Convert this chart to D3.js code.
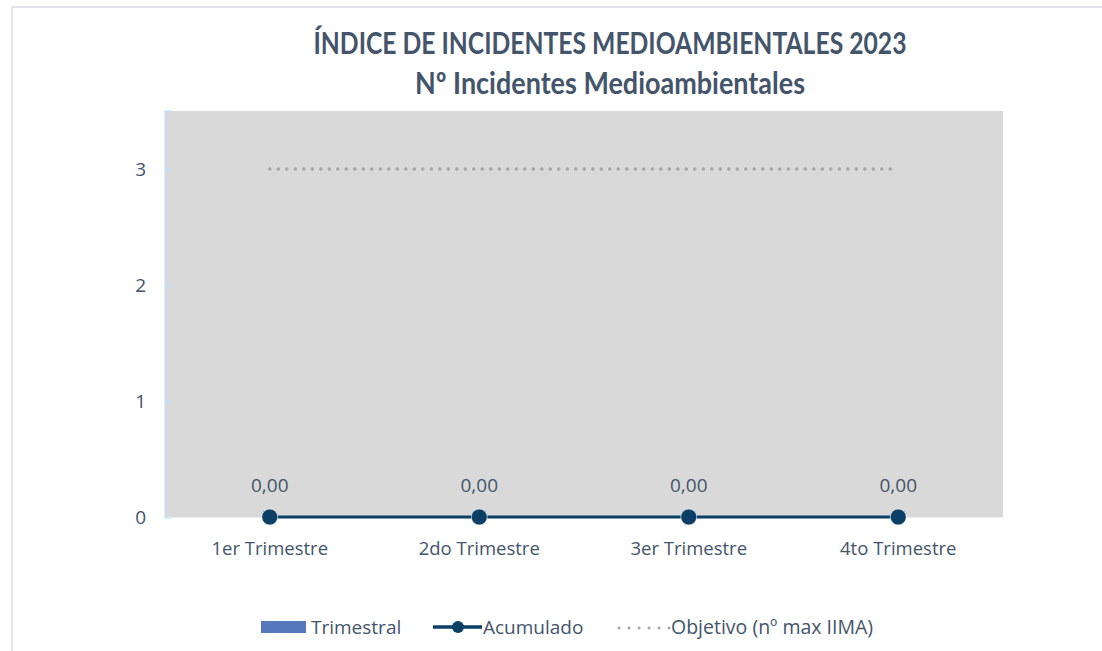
<!DOCTYPE html>
<html>
<head>
<meta charset="utf-8">
<script src="https://cdn.jsdelivr.net/npm/d3@7"></script>
<style>
  body { margin: 0; background: #fff; }
  text { font-family: "Open Sans", Lato, sans-serif; fill: #44546a; }
</style>
</head>
<body>
<div id="chart"></div>
<script>
var categories = ["1er Trimestre", "2do Trimestre", "3er Trimestre", "4to Trimestre"];
var trimestral = [0, 0, 0, 0];
var acumulado = [0, 0, 0, 0];
var objetivo = [3, 3, 3, 3];
var yTicks = [0, 1, 2, 3];
var titleLines = ["ÍNDICE DE INCIDENTES MEDIOAMBIENTALES 2023", "Nº Incidentes Medioambientales"];

var W = 1102, H = 651;
var margin = { top: 111, right: 99, bottom: 134, left: 165 },
  width = W - margin.left - margin.right,
  height = H - margin.top - margin.bottom;

var root = d3.select("#chart").append("svg").attr("width", W).attr("height", H);

// outer chart border
root.append("rect")
  .attr("x", 12).attr("y", 7)
  .attr("width", W + 20).attr("height", H + 20)
  .style("fill", "none").style("stroke", "#e1e4eb").style("stroke-width", 2);

// title
var titleWidths = [593, 390];
root.selectAll(".title")
  .data(titleLines)
  .enter()
  .append("text")
  .attr("class", "title")
  .attr("x", 610)
  .attr("y", function (d, i) { return 54 + i * 40; })
  .attr("text-anchor", "middle")
  .attr("textLength", function (d, i) { return titleWidths[i]; })
  .attr("lengthAdjust", "spacingAndGlyphs")
  .style("font-family", "Lato, sans-serif")
  .style("font-size", "30px")
  .style("font-weight", "bold")
  .text(function (d) { return d; });

var svg = root.append("g")
  .attr("transform", "translate(" + margin.left + "," + margin.top + ")");

var x = d3.scaleBand().domain(categories).range([0, width]);
var y = d3.scaleLinear().domain([0, 3.5]).range([height, 0]);
var cx = function (i) { return x(categories[i]) + x.bandwidth() / 2; };

svg.append("rect")
  .attr("width", width).attr("height", height)
  .style("fill", "#d9d9d9");

// y axis
var yAxis = d3.axisLeft(y).tickValues(yTicks).tickSize(-7).tickPadding(19)
  .tickFormat(d3.format("d"));
var gy = svg.append("g").attr("class", "y axis").call(yAxis);
gy.select(".domain").style("stroke", "#c9dcf0").style("stroke-width", 2);
gy.selectAll(".tick line").style("stroke", "#c9dcf0").style("stroke-width", 2);
gy.selectAll(".tick text").style("font-size", "19px").style("fill", "#44546a")
  .style("font-family", "'Open Sans', sans-serif");

// x axis labels
var xAxis = d3.axisBottom(x).tickSize(0).tickPadding(25);
var gx = svg.append("g").attr("class", "x axis")
  .attr("transform", "translate(0," + height + ")").call(xAxis);
gx.select(".domain").style("stroke", "#e8edf4").style("stroke-width", 1);
gx.selectAll(".tick text").style("font-size", "18.5px").style("fill", "#44546a")
  .style("font-family", "'Open Sans', sans-serif");

// Trimestral bars (zero values)
svg.selectAll(".bar")
  .data(trimestral)
  .enter()
  .append("rect")
  .attr("class", "bar")
  .attr("x", function (d, i) { return cx(i) - x.bandwidth() * 0.3; })
  .attr("width", x.bandwidth() * 0.6)
  .attr("y", function (d) { return y(d); })
  .attr("height", function (d) { return height - y(d); })
  .style("fill", "#5577bd");

// Objetivo dotted line
var line = d3.line()
  .x(function (d, i) { return cx(i); })
  .y(function (d) { return y(d); });

svg.append("path")
  .datum(objetivo)
  .attr("d", line)
  .style("fill", "none")
  .style("stroke", "#a6a6a6")
  .style("stroke-width", 3.5)
  .style("stroke-linecap", "round")
  .style("stroke-dasharray", "0.1 8.4");

// Acumulado line
svg.append("path")
  .datum(acumulado)
  .attr("d", line)
  .style("fill", "none")
  .style("stroke", "#0b3f66")
  .style("stroke-width", 3);

svg.selectAll(".dot")
  .data(acumulado)
  .enter()
  .append("circle")
  .attr("class", "dot")
  .attr("cx", function (d, i) { return cx(i); })
  .attr("cy", function (d) { return y(d); })
  .attr("r", 8)
  .style("fill", "#0b3f66")
  .style("stroke", "#ffffff")
  .style("stroke-opacity", 0.6)
  .style("stroke-width", 1);

svg.selectAll(".label")
  .data(acumulado)
  .enter()
  .append("text")
  .attr("class", "label")
  .attr("x", function (d, i) { return cx(i); })
  .attr("y", function (d) { return y(d) - 25; })
  .attr("text-anchor", "middle")
  .style("font-size", "19px")
  .text(function (d) { return d3.format(".2f")(d).replace(".", ","); });

// legend
var legend = root.append("g").attr("transform", "translate(0,627)");
legend.append("rect").attr("x", 261).attr("y", -6).attr("width", 45).attr("height", 12)
  .style("fill", "#5577bd");
legend.append("text").attr("x", 311).attr("y", 7).style("font-size", "19px").text("Trimestral");

legend.append("line").attr("x1", 433).attr("x2", 482).attr("y1", 0).attr("y2", 0)
  .style("stroke", "#0b3f66").style("stroke-width", 3.5);
legend.append("circle").attr("cx", 458).attr("cy", 0).attr("r", 6).style("fill", "#0b3f66");
legend.append("text").attr("x", 483).attr("y", 7).style("font-size", "19px").text("Acumulado");

legend.append("line").attr("x1", 619).attr("x2", 669).attr("y1", 1).attr("y2", 1)
  .style("stroke", "#a6a6a6").style("stroke-width", 3)
  .style("stroke-linecap", "round").style("stroke-dasharray", "0.1 9.9");
legend.append("text").attr("x", 671).attr("y", 7).style("font-size", "19.5px")
  .text("Objetivo (nº max IIMA)");
</script>
</body>
</html>
